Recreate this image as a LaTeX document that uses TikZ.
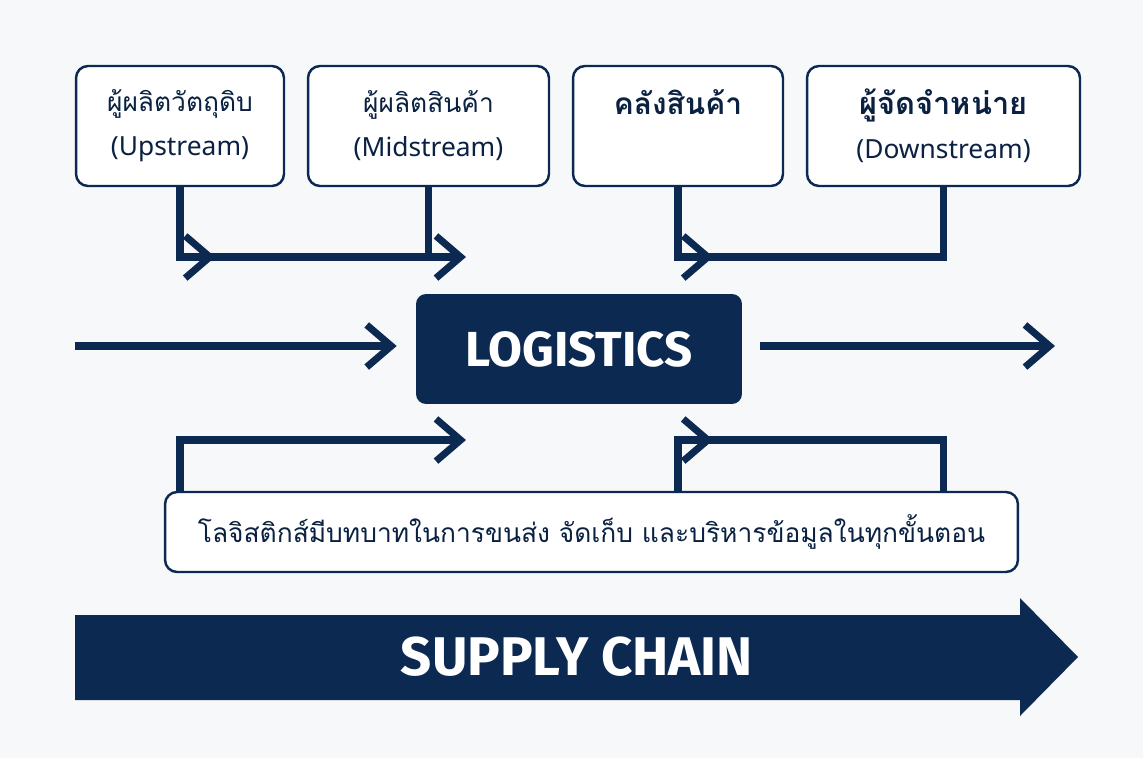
\documentclass[tikz,border=0pt]{standalone}
\usepackage{fontspec}
\setmainfont{Noto Sans}
\newfontfamily\thaifont[Script=Thai]{Loma}
\newfontfamily\headfont{Fira Sans}
\usetikzlibrary{arrows.meta,decorations.markings}
\definecolor{navy}{RGB}{12,41,82}
\definecolor{paper}{RGB}{247,248,249}
\tikzset{
  chev/.tip={Straight Barb[length=14pt,width=24pt]},
  stagebox/.style={draw=navy,line width=1.4pt,rounded corners=0.24cm,fill=white,
    minimum height=2.4cm,align=center,text=navy!80!black,font=\fontsize{15}{25}\selectfont},
  link/.style={draw=navy,line width=4pt},
  midchev/.style={postaction={decorate,decoration={markings,
    mark=at position #1 with {\arrow{chev}}}}},
}
\begin{document}
\begin{tikzpicture}[x=0.02cm,y=-0.02cm]
        \fill[paper] (0,0) rectangle (1143,758);

        \node[stagebox,minimum width=4.16cm] (up) at (180,126) {{\thaifont ผู้ผลิตวัตถุดิบ}\\(Upstream)};
        \node[stagebox,minimum width=4.82cm] (mid) at (428.5,126) {{\thaifont ผู้ผลิตสินค้า}\\(Midstream)};
        \node[stagebox,minimum width=4.2cm] (ware) at (678,126) {{\thaifont\bfseries\fontsize{17}{25}\selectfont คลังสินค้า}\\\phantom{(Down)}};
        \node[stagebox,minimum width=5.46cm] (down) at (943.5,126) {{\thaifont\bfseries\fontsize{17.5}{25}\selectfont ผู้จัดจำหน่าย}\\(Downstream)};

        \node[fill=navy,rounded corners=0.2cm,minimum width=6.52cm,minimum height=2.2cm,
          text=white,font=\headfont\bfseries\fontsize{28}{34}\selectfont] (logi) at (579,349) {LOGISTICS};

        \node[stagebox,minimum width=17.06cm,minimum height=1.6cm,
          font=\thaifont\fontsize{15}{20}\selectfont] (note) at (591.5,532)
          {โลจิสติกส์มีบทบาทในการขนส่ง จัดเก็บ และบริหารข้อมูลในทุกขั้นตอน};

        \coordinate (t1) at (466,257);
        \coordinate (b1) at (466,440);
        \coordinate (in) at (75,346);
        \coordinate (out) at (1055,346);

        \draw[link,-chev,midchev=2.1cm] (up.south) |- (t1);
        \draw[link] (mid.south) -- (mid.south |- t1);
        \draw[link,midchev=2.1cm] (ware.south) |- (down.south |- t1) -- (down.south);

        \draw[link,-chev,shorten >=0.38cm] (in) -- (in -| logi.west);
        \draw[link,-chev,shorten <=0.36cm] (logi.east |- out) -- (out);

        \draw[link,-chev] (up.south |- note.north) |- (b1);
        \draw[link,midchev=1.72cm] (ware.south |- note.north) |- (down.south |- b1) -- (down.south |- note.north);

        \fill[navy] (75,615) -- (1020,615) -- (1020,598) -- (1078,657) -- (1020,716) -- (1020,700) -- (75,700) -- cycle;
        \node[text=white,font=\headfont\bfseries\fontsize{31}{36}\selectfont] (chain) at (577,657) {SUPPLY CHAIN};
    \end{tikzpicture}
\end{document}
